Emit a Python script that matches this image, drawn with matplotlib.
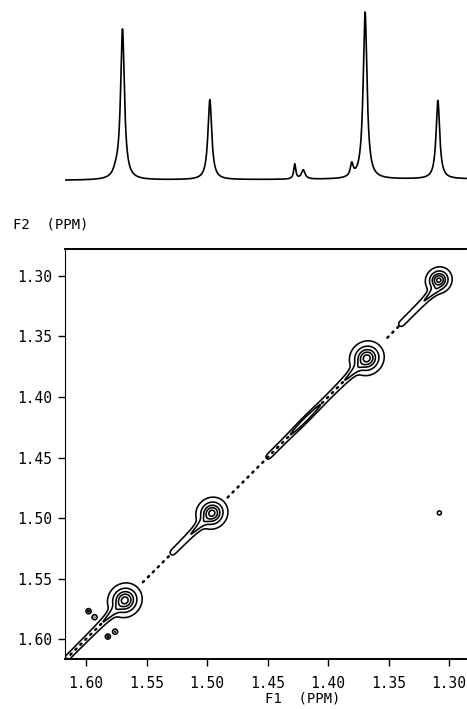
import numpy as np
import matplotlib
matplotlib.use("Agg")
import matplotlib.pyplot as plt

plt.rcParams['font.family'] = ['DejaVu Sans Mono']

# ---- 1D spectrum (F1 projection) ----
peak_ppm = [1.5755, 1.570, 1.498, 1.428, 1.421, 1.381, 1.370, 1.310]
peak_height = [0.03, 0.90, 0.48, 0.09, 0.055, 0.075, 1.00, 0.47]
peak_width = [0.0025, 0.0019, 0.0019, 0.0010, 0.0018, 0.0014, 0.0019, 0.0018]
baseline_ends = [-0.008, 0.0]

# ---- 2D COSY contour data ----
diag_ppm = [1.568, 1.496, 1.368, 1.3085]
diag_f2 = [1.568, 1.496, 1.368, 1.3035]
diag_amp = [1.0, 0.85, 1.0, 0.6]
cross_f1 = [1.308, 1.598, 1.593, 1.582, 1.576]
cross_f2 = [1.4958, 1.577, 1.582, 1.598, 1.594]
cross_amp = [0.035, 0.04, 0.035, 0.04, 0.035]
tube_start = [1.640, 1.530, 1.451, 1.341]
tube_end = [1.570, 1.497, 1.368, 1.309]
loop_ppm = 1.419
dot_start = [1.617, 1.553, 1.483, 1.405, 1.351]
dot_end = [1.586, 1.530, 1.432, 1.386, 1.340]
levels = [0.02, 0.04, 0.075, 0.14, 0.35]

xlo, xhi = 1.6174, 1.286
ylo, yhi = 1.6165, 1.2777

fig = plt.figure(figsize=(4.67, 7.09), dpi=100)

# top spectrum
ax1 = fig.add_axes([65/467, 519/709, 402/467, 190/709])
ppm = np.linspace(xlo, xhi, 3000)
spec = np.interp(ppm, [xhi, xlo], baseline_ends[::-1])
for c, h, g in zip(peak_ppm, peak_height, peak_width):
    spec = spec + h * g**2 / ((ppm - c)**2 + g**2)
ax1.plot(ppm, spec, color='black', lw=1.2)
ax1.set_xlim(xlo, xhi)
ax1.set_ylim(-0.066, 1.072)
ax1.axis('off')

# contour plot
ax = fig.add_axes([65/467, 50/709, 401/467, 410/709])
x = np.linspace(xlo, xhi, 700)
y = np.linspace(yhi, ylo, 700)
X, Y = np.meshgrid(x, y)
U = (X + Y) / 2
V = X - Y
Z = np.zeros_like(X)
gu, gv = 0.0021, 0.00195
for c1, c2, a in zip(diag_ppm, diag_f2, diag_amp):
    du = ((X - c1) + (Y - c2)) / np.sqrt(2)
    dv = ((X - c1) - (Y - c2)) / np.sqrt(2)
    Z += a / (1 + (du / gu)**2 + (dv / gv)**2)
for c1, c2, a in zip(cross_f1, cross_f2, cross_amp):
    Z += a * np.exp(-((X - c1)**2 + (Y - c2)**2) / 0.0022**2)
s = 0.0015
for a, b in zip(tube_start, tube_end):
    box = 0.5 * (np.tanh((a - U) / s) - np.tanh((b - U) / s))
    Z += 0.033 * box * np.exp(-(V / 0.004)**2)
Z += 0.02 * np.exp(-((U - loop_ppm) / 0.011)**2 - (V / 0.003)**2)

ax.contour(X, Y, Z, levels=levels, colors='black', linewidths=1.15)
for a, b in zip(dot_start, dot_end):
    ax.plot([a, b], [a, b], color='black', lw=1.8,
            linestyle=(0, (0.6, 2.2)), dash_capstyle='round')

ax.set_xlim(xlo, xhi)
ax.set_ylim(ylo, yhi)
ticks = [1.60, 1.55, 1.50, 1.45, 1.40, 1.35, 1.30]
ax.set_xticks(ticks)
ax.set_xticklabels(['%.2f' % t for t in ticks])
ax.set_yticks(ticks)
ax.set_yticklabels(['%.2f' % t for t in ticks])
ax.tick_params(direction='out', length=5, width=1, labelsize=10.5, pad=7)
ax.tick_params(axis='y', pad=4)
ax.spines['right'].set_visible(False)
ax.spines['left'].set_linewidth(0.8)
ax.spines['bottom'].set_linewidth(1.4)
ax.spines['top'].set_linewidth(1.4)

fig.text(13/467, 1 - 225/709, 'F2  (PPM)', ha='left', va='center', fontsize=10)
fig.text(303/467, 1 - 698/709, 'F1  (PPM)', ha='center', va='center', fontsize=10)

fig.savefig('out.png', dpi=100)
